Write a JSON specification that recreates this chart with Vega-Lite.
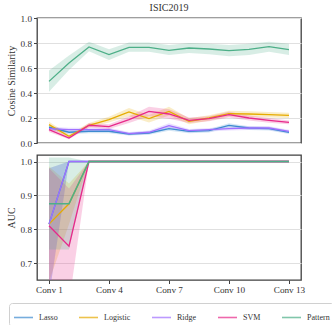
{
  "$schema": "https://vega.github.io/schema/vega-lite/v6.json",
  "padding": {"left": 5, "top": 2, "right": 3, "bottom": 1},
  "background": "white",
  "bounds": "flush",
  "spacing": 12,
  "config": {
    "font": "Liberation Serif",
    "view": {"stroke": "#404040", "strokeWidth": 1.3},
    "style": {"guide-label": {"font": "Liberation Serif"}, "guide-title": {"font": "Liberation Serif"}, "group-title": {"font": "Liberation Serif"}},
    "axis": {"domain": false, "tickColor": "#404040", "tickSize": 3.5, "tickWidth": 1, "labelColor": "#333333", "labelOverlap": false, "labelFont": "Liberation Serif", "labelFontSize": 9.2, "titleFont": "Liberation Serif", "titleFontSize": 10, "titleFontWeight": "normal", "titleColor": "#333333", "gridColor": "#e0e0e0", "gridWidth": 1},
    "title": {"font": "Liberation Serif", "fontSize": 10, "fontWeight": "normal", "color": "#333333"}
  },
  "datasets": {
    "cos": [
      {"model": "Lasso", "conv": 1, "mean": 0.126, "lo": 0.111, "hi": 0.141},
      {"model": "Lasso", "conv": 2, "mean": 0.086, "lo": 0.071, "hi": 0.101},
      {"model": "Lasso", "conv": 3, "mean": 0.094, "lo": 0.079, "hi": 0.109},
      {"model": "Lasso", "conv": 4, "mean": 0.094, "lo": 0.079, "hi": 0.109},
      {"model": "Lasso", "conv": 5, "mean": 0.072, "lo": 0.060, "hi": 0.084},
      {"model": "Lasso", "conv": 6, "mean": 0.080, "lo": 0.066, "hi": 0.094},
      {"model": "Lasso", "conv": 7, "mean": 0.115, "lo": 0.098, "hi": 0.132},
      {"model": "Lasso", "conv": 8, "mean": 0.093, "lo": 0.079, "hi": 0.107},
      {"model": "Lasso", "conv": 9, "mean": 0.099, "lo": 0.085, "hi": 0.113},
      {"model": "Lasso", "conv": 10, "mean": 0.141, "lo": 0.124, "hi": 0.158},
      {"model": "Lasso", "conv": 11, "mean": 0.120, "lo": 0.105, "hi": 0.135},
      {"model": "Lasso", "conv": 12, "mean": 0.115, "lo": 0.100, "hi": 0.130},
      {"model": "Lasso", "conv": 13, "mean": 0.085, "lo": 0.072, "hi": 0.098},
      {"model": "Logistic", "conv": 1, "mean": 0.147, "lo": 0.125, "hi": 0.170},
      {"model": "Logistic", "conv": 2, "mean": 0.054, "lo": 0.040, "hi": 0.068},
      {"model": "Logistic", "conv": 3, "mean": 0.142, "lo": 0.125, "hi": 0.160},
      {"model": "Logistic", "conv": 4, "mean": 0.187, "lo": 0.165, "hi": 0.210},
      {"model": "Logistic", "conv": 5, "mean": 0.248, "lo": 0.215, "hi": 0.280},
      {"model": "Logistic", "conv": 6, "mean": 0.195, "lo": 0.165, "hi": 0.225},
      {"model": "Logistic", "conv": 7, "mean": 0.253, "lo": 0.220, "hi": 0.290},
      {"model": "Logistic", "conv": 8, "mean": 0.173, "lo": 0.150, "hi": 0.198},
      {"model": "Logistic", "conv": 9, "mean": 0.200, "lo": 0.178, "hi": 0.222},
      {"model": "Logistic", "conv": 10, "mean": 0.235, "lo": 0.212, "hi": 0.258},
      {"model": "Logistic", "conv": 11, "mean": 0.232, "lo": 0.210, "hi": 0.254},
      {"model": "Logistic", "conv": 12, "mean": 0.227, "lo": 0.205, "hi": 0.249},
      {"model": "Logistic", "conv": 13, "mean": 0.221, "lo": 0.200, "hi": 0.242},
      {"model": "Ridge", "conv": 1, "mean": 0.115, "lo": 0.100, "hi": 0.130},
      {"model": "Ridge", "conv": 2, "mean": 0.107, "lo": 0.092, "hi": 0.122},
      {"model": "Ridge", "conv": 3, "mean": 0.107, "lo": 0.092, "hi": 0.122},
      {"model": "Ridge", "conv": 4, "mean": 0.107, "lo": 0.092, "hi": 0.122},
      {"model": "Ridge", "conv": 5, "mean": 0.075, "lo": 0.062, "hi": 0.088},
      {"model": "Ridge", "conv": 6, "mean": 0.086, "lo": 0.072, "hi": 0.100},
      {"model": "Ridge", "conv": 7, "mean": 0.139, "lo": 0.120, "hi": 0.158},
      {"model": "Ridge", "conv": 8, "mean": 0.099, "lo": 0.085, "hi": 0.113},
      {"model": "Ridge", "conv": 9, "mean": 0.107, "lo": 0.093, "hi": 0.121},
      {"model": "Ridge", "conv": 10, "mean": 0.115, "lo": 0.100, "hi": 0.130},
      {"model": "Ridge", "conv": 11, "mean": 0.120, "lo": 0.105, "hi": 0.135},
      {"model": "Ridge", "conv": 12, "mean": 0.120, "lo": 0.105, "hi": 0.135},
      {"model": "Ridge", "conv": 13, "mean": 0.093, "lo": 0.080, "hi": 0.106},
      {"model": "SVM", "conv": 1, "mean": 0.107, "lo": 0.088, "hi": 0.126},
      {"model": "SVM", "conv": 2, "mean": 0.040, "lo": 0.030, "hi": 0.052},
      {"model": "SVM", "conv": 3, "mean": 0.142, "lo": 0.125, "hi": 0.160},
      {"model": "SVM", "conv": 4, "mean": 0.131, "lo": 0.112, "hi": 0.150},
      {"model": "SVM", "conv": 5, "mean": 0.187, "lo": 0.160, "hi": 0.215},
      {"model": "SVM", "conv": 6, "mean": 0.253, "lo": 0.215, "hi": 0.290},
      {"model": "SVM", "conv": 7, "mean": 0.232, "lo": 0.195, "hi": 0.270},
      {"model": "SVM", "conv": 8, "mean": 0.181, "lo": 0.160, "hi": 0.205},
      {"model": "SVM", "conv": 9, "mean": 0.195, "lo": 0.175, "hi": 0.215},
      {"model": "SVM", "conv": 10, "mean": 0.227, "lo": 0.205, "hi": 0.250},
      {"model": "SVM", "conv": 11, "mean": 0.200, "lo": 0.180, "hi": 0.220},
      {"model": "SVM", "conv": 12, "mean": 0.181, "lo": 0.162, "hi": 0.200},
      {"model": "SVM", "conv": 13, "mean": 0.165, "lo": 0.150, "hi": 0.180},
      {"model": "Pattern", "conv": 1, "mean": 0.493, "lo": 0.410, "hi": 0.580},
      {"model": "Pattern", "conv": 2, "mean": 0.640, "lo": 0.585, "hi": 0.700},
      {"model": "Pattern", "conv": 3, "mean": 0.768, "lo": 0.735, "hi": 0.810},
      {"model": "Pattern", "conv": 4, "mean": 0.707, "lo": 0.665, "hi": 0.750},
      {"model": "Pattern", "conv": 5, "mean": 0.765, "lo": 0.730, "hi": 0.805},
      {"model": "Pattern", "conv": 6, "mean": 0.765, "lo": 0.730, "hi": 0.805},
      {"model": "Pattern", "conv": 7, "mean": 0.741, "lo": 0.705, "hi": 0.785},
      {"model": "Pattern", "conv": 8, "mean": 0.760, "lo": 0.720, "hi": 0.800},
      {"model": "Pattern", "conv": 9, "mean": 0.752, "lo": 0.710, "hi": 0.795},
      {"model": "Pattern", "conv": 10, "mean": 0.739, "lo": 0.695, "hi": 0.785},
      {"model": "Pattern", "conv": 11, "mean": 0.749, "lo": 0.705, "hi": 0.795},
      {"model": "Pattern", "conv": 12, "mean": 0.771, "lo": 0.730, "hi": 0.810},
      {"model": "Pattern", "conv": 13, "mean": 0.747, "lo": 0.705, "hi": 0.795}
    ],
    "auc": [
      {"model": "Lasso", "conv": 1, "mean": 0.815, "lo": 0.60, "hi": 0.98},
      {"model": "Lasso", "conv": 2, "mean": 1.0, "lo": 1.0, "hi": 1.0},
      {"model": "Lasso", "conv": 3, "mean": 1.0, "lo": 1.0, "hi": 1.0},
      {"model": "Lasso", "conv": 13, "mean": 1.0, "lo": 1.0, "hi": 1.0},
      {"model": "Logistic", "conv": 1, "mean": 0.815, "lo": 0.645, "hi": 0.985},
      {"model": "Logistic", "conv": 2, "mean": 0.875, "lo": 0.815, "hi": 0.935},
      {"model": "Logistic", "conv": 3, "mean": 1.0, "lo": 1.0, "hi": 1.0},
      {"model": "Logistic", "conv": 13, "mean": 1.0, "lo": 1.0, "hi": 1.0},
      {"model": "Ridge", "conv": 1, "mean": 0.815, "lo": 0.60, "hi": 0.98},
      {"model": "Ridge", "conv": 2, "mean": 1.0, "lo": 1.0, "hi": 1.0},
      {"model": "Ridge", "conv": 3, "mean": 1.0, "lo": 1.0, "hi": 1.0},
      {"model": "Ridge", "conv": 13, "mean": 1.0, "lo": 1.0, "hi": 1.0},
      {"model": "SVM", "conv": 1, "mean": 0.81, "lo": 0.50, "hi": 0.98},
      {"model": "SVM", "conv": 2, "mean": 0.75, "lo": 0.58, "hi": 0.92},
      {"model": "SVM", "conv": 3, "mean": 1.0, "lo": 1.0, "hi": 1.0},
      {"model": "SVM", "conv": 13, "mean": 1.0, "lo": 1.0, "hi": 1.0},
      {"model": "Pattern", "conv": 1, "mean": 0.875, "lo": 0.74, "hi": 1.012},
      {"model": "Pattern", "conv": 2, "mean": 0.875, "lo": 0.74, "hi": 1.012},
      {"model": "Pattern", "conv": 3, "mean": 1.0, "lo": 1.0, "hi": 1.0},
      {"model": "Pattern", "conv": 13, "mean": 1.0, "lo": 1.0, "hi": 1.0}
    ]
  },
  "vconcat": [
    {
      "title": {"text": "ISIC2019", "frame": "group", "offset": 1},
      "width": 264,
      "height": 125,
      "data": {"name": "cos"},
      "encoding": {
        "x": {"field": "conv", "type": "quantitative", "scale": {"domain": [0.4, 13.6], "nice": false}, "axis": null},
        "y": {"field": "mean", "type": "quantitative", "scale": {"domain": [0, 1], "nice": false}, "axis": {"title": "Cosine Similarity", "values": [0, 0.2, 0.4, 0.6, 0.8, 1.0], "format": ".1f", "grid": true, "titlePadding": 4, "labelOverlap": false}},
        "color": {"field": "model", "type": "nominal", "scale": {"domain": ["Lasso", "Logistic", "Ridge", "SVM", "Pattern"], "range": ["#3d8bd0", "#e6ab02", "#a070ff", "#e7298a", "#4daf88"]},
          "legend": {"title": null, "orient": "none", "legendX": -28, "legendY": 285, "direction": "horizontal", "columns": 5, "gridAlign": "none", "symbolType": "stroke", "symbolSize": 361, "symbolStrokeWidth": 1.6, "symbolOpacity": 0.7, "labelOffset": 5, "columnPadding": 17, "padding": 4, "strokeColor": "#d0d0d0", "cornerRadius": 3, "fillColor": "white", "labelFont": "Liberation Serif", "labelFontSize": 8, "labelColor": "#333333"}}
      },
      "layer": [
        {"mark": {"type": "area", "opacity": 0.22, "clip": true}, "encoding": {"y": {"field": "lo", "type": "quantitative"}, "y2": {"field": "hi"}}},
        {"transform": [{"filter": "datum.model == 'Lasso'"}], "mark": {"type": "line", "strokeWidth": 1.3, "clip": true}, "encoding": {}},
        {"transform": [{"filter": "datum.model == 'Logistic'"}], "mark": {"type": "line", "strokeWidth": 1.3, "clip": true}, "encoding": {}},
        {"transform": [{"filter": "datum.model == 'Ridge'"}], "mark": {"type": "line", "strokeWidth": 1.3, "clip": true}, "encoding": {}},
        {"transform": [{"filter": "datum.model == 'SVM'"}], "mark": {"type": "line", "strokeWidth": 1.3, "clip": true}, "encoding": {}},
        {"transform": [{"filter": "datum.model == 'Pattern'"}], "mark": {"type": "line", "strokeWidth": 1.3, "clip": true}, "encoding": {}}
      ]
    },
    {
      "width": 264,
      "height": 125,
      "data": {"name": "auc"},
      "encoding": {
        "x": {"field": "conv", "type": "quantitative", "scale": {"domain": [0.4, 13.6], "nice": false}, "axis": {"title": null, "values": [1, 4, 7, 10, 13], "labelExpr": "'Conv ' + datum.value", "grid": false}},
        "y": {"field": "mean", "type": "quantitative", "scale": {"domain": [0.65, 1.0192], "nice": false, "zero": false}, "axis": {"title": "AUC", "values": [0.7, 0.8, 0.9, 1.0], "format": ".1f", "grid": true, "titlePadding": 4, "labelOverlap": false}},
        "color": {"field": "model", "type": "nominal", "scale": {"domain": ["Lasso", "Logistic", "Ridge", "SVM", "Pattern"], "range": ["#3d8bd0", "#e6ab02", "#a070ff", "#e7298a", "#4daf88"]},
          "legend": {"title": null, "orient": "none", "legendX": -28, "legendY": 285, "direction": "horizontal", "columns": 5, "gridAlign": "none", "symbolType": "stroke", "symbolSize": 361, "symbolStrokeWidth": 1.6, "symbolOpacity": 0.7, "labelOffset": 5, "columnPadding": 17, "padding": 4, "strokeColor": "#d0d0d0", "cornerRadius": 3, "fillColor": "white", "labelFont": "Liberation Serif", "labelFontSize": 8, "labelColor": "#333333"}}
      },
      "layer": [
        {"mark": {"type": "area", "opacity": 0.22, "clip": true}, "encoding": {"y": {"field": "lo", "type": "quantitative"}, "y2": {"field": "hi"}}},
        {"transform": [{"filter": "datum.model == 'Lasso'"}], "mark": {"type": "line", "strokeWidth": 1.3, "clip": true}, "encoding": {}},
        {"transform": [{"filter": "datum.model == 'Logistic'"}], "mark": {"type": "line", "strokeWidth": 1.3, "clip": true}, "encoding": {}},
        {"transform": [{"filter": "datum.model == 'Ridge'"}], "mark": {"type": "line", "strokeWidth": 1.3, "clip": true}, "encoding": {}},
        {"transform": [{"filter": "datum.model == 'SVM'"}], "mark": {"type": "line", "strokeWidth": 1.3, "clip": true}, "encoding": {}},
        {"transform": [{"filter": "datum.model == 'Pattern'"}], "mark": {"type": "line", "strokeWidth": 1.6, "clip": true}, "encoding": {}}
      ]
    }
  ]
}
